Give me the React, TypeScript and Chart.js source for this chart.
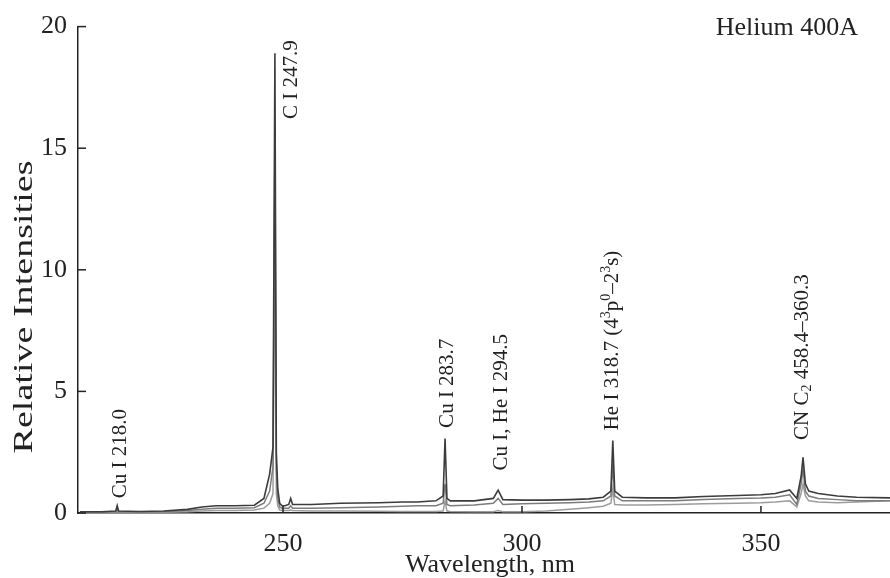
import React, { useEffect, useRef } from "react";
import { Chart, registerables } from "chart.js";

Chart.register(...registerables);

// Shared wavelength grid (nm)
const wavelengths = [
  207.5, 212, 215, 215.3, 215.6, 220, 225, 230, 233, 236, 240, 244, 246, 247.2, 247.9, 248.3, 248.6, 248.9, 249.3,
  249.8, 250.4, 251.2, 251.6, 252, 256, 262, 270, 275, 278, 282, 283.5, 283.9, 284.3, 285, 290, 294, 295, 296,
  300, 305, 310, 314, 317, 318.6, 319.0, 319.4, 321, 326, 332, 338, 345, 350, 353, 356, 357.5, 358.4, 358.8,
  359.3, 360, 362, 366, 370, 377,
];

const seriesA = [
  0.05, 0.05, 0.08, 0.3, 0.08, 0.06, 0.08, 0.15, 0.25, 0.3, 0.3, 0.32, 0.6, 1.6, 2.7, 18.9, 2.5, 1.0, 0.4,
  0.3, 0.3, 0.35, 0.6, 0.35, 0.35, 0.4, 0.42, 0.45, 0.45, 0.5, 0.7, 3.06, 0.6, 0.5, 0.5, 0.6, 0.94, 0.55,
  0.53, 0.53, 0.55, 0.58, 0.65, 0.9, 2.98, 0.9, 0.65, 0.62, 0.62, 0.68, 0.72, 0.75, 0.8, 0.95, 0.6, 1.5, 2.29,
  1.2, 0.9, 0.8, 0.7, 0.65, 0.62,
];

const seriesB = [
  0.03, 0.03, 0.05, 0.15, 0.05, 0.04, 0.05, 0.1, 0.15, 0.2, 0.2, 0.22, 0.4, 0.9, 1.9, 15.5, 1.8, 0.6, 0.25,
  0.2, 0.2, 0.2, 0.3, 0.2, 0.2, 0.22, 0.25, 0.28, 0.3, 0.3, 0.4, 1.2, 0.35, 0.3, 0.33, 0.4, 0.6, 0.35,
  0.38, 0.4, 0.42, 0.45, 0.5, 0.7, 2.0, 0.7, 0.5, 0.5, 0.5, 0.55, 0.6, 0.62, 0.65, 0.75, 0.35, 1.2, 1.8,
  0.9, 0.7, 0.6, 0.55, 0.5, 0.5,
];

const seriesC = [
  0.0, 0.0, 0.02, 0.05, 0.02, 0.02, 0.03, 0.05, 0.08, 0.1, 0.1, 0.12, 0.2, 0.4, 0.8, 12.5, 0.8, 0.3, 0.12,
  0.1, 0.1, 0.1, 0.12, 0.1, 0.08, 0.08, 0.07, 0.06, 0.06, 0.06, 0.08, 0.5, 0.08, 0.06, 0.05, 0.05, 0.1, 0.05,
  0.05, 0.08, 0.15, 0.22, 0.28, 0.4, 1.0, 0.35, 0.33, 0.33, 0.35, 0.38, 0.4, 0.42, 0.45, 0.5, 0.25, 0.8, 1.2,
  0.7, 0.5, 0.45, 0.42, 0.45, 0.5,
];

const xTicks = [250, 300, 350];
const yTicks = [0, 5, 10, 15, 20];

type Seg = { t: string; k?: "sup" | "sub" };
const peakLabels: Seg[][] = [
  [{ t: "Cu I 218.0" }],
  [{ t: "C I 247.9" }],
  [{ t: "Cu I 283.7" }],
  [{ t: "Cu I, He I 294.5" }],
  [{ t: "He I 318.7 (4" }, { t: "3", k: "sup" }, { t: "p" }, { t: "0", k: "sup" }, { t: "\u20132" }, { t: "3", k: "sup" }, { t: "s)" }],
  [{ t: "CN C" }, { t: "2", k: "sub" }, { t: " 458.4\u2013360.3" }],
];
const peakLabelX = [215.9, 251.7, 284.5, 295.8, 319.0, 358.6];
const peakLabelY = [0.61, 16.2, 3.5, 1.75, 3.4, 3.0];

const titleText = "Helium 400A";
const xTitle = "Wavelength, nm";
const yTitle = "Relative Intensities";

const FONT = "'Liberation Serif', 'Times New Roman', serif";
const TEXT = "#222";

const decor = {
  id: "decor",
  afterDraw(chart: any) {
    const ctx = chart.ctx as CanvasRenderingContext2D;
    const xs = chart.scales.x;
    const ys = chart.scales.y;
    const ca = chart.chartArea;
    ctx.save();
    ctx.strokeStyle = "#222";
    ctx.lineWidth = 1.5;
    yTicks.forEach((v) => {
      const y = ys.getPixelForValue(v);
      ctx.beginPath();
      ctx.moveTo(ca.left, y);
      ctx.lineTo(ca.left + 8, y);
      ctx.stroke();
    });
    xTicks.forEach((v) => {
      const x = xs.getPixelForValue(v);
      ctx.beginPath();
      ctx.moveTo(x, ca.bottom);
      ctx.lineTo(x, ca.bottom - 7);
      ctx.stroke();
    });
    ctx.fillStyle = TEXT;
    ctx.font = `26px ${FONT}`;
    ctx.textAlign = "right";
    ctx.textBaseline = "alphabetic";
    ctx.fillText(titleText, 858, 35);
    ctx.textAlign = "center";
    ctx.fillText(xTitle, 490, 572);
    // y title (rotated, stretched along its length to span)
    ctx.save();
    ctx.translate(32, 307);
    ctx.rotate(-Math.PI / 2);
    ctx.font = `28px ${FONT}`;
    const w = ctx.measureText(yTitle).width;
    const target = 293;
    ctx.scale(target / w, 1);
    ctx.textAlign = "center";
    ctx.textBaseline = "alphabetic";
    ctx.fillText(yTitle, 0, 0);
    ctx.restore();
    // peak labels
    const fs = 21;
    peakLabels.forEach((segs, i) => {
      const px = xs.getPixelForValue(peakLabelX[i]);
      const py = ys.getPixelForValue(peakLabelY[i]);
      ctx.save();
      ctx.translate(px, py);
      ctx.rotate(-Math.PI / 2);
      ctx.textAlign = "left";
      ctx.textBaseline = "middle";
      let cx = 0;
      segs.forEach((s) => {
        if (s.k === "sup") {
          ctx.font = `${Math.round(fs * 0.65)}px ${FONT}`;
          ctx.fillText(s.t, cx, -6);
        } else if (s.k === "sub") {
          ctx.font = `${Math.round(fs * 0.65)}px ${FONT}`;
          ctx.fillText(s.t, cx, 5);
        } else {
          ctx.font = `${fs}px ${FONT}`;
          ctx.fillText(s.t, cx, 0);
        }
        cx += ctx.measureText(s.t).width;
      });
      ctx.restore();
    });
    ctx.restore();
  },
};

export default function App() {
  const ref = useRef<HTMLCanvasElement | null>(null);
  useEffect(() => {
    if (!ref.current) return;
    const mk = (vals: number[]) => wavelengths.map((x, i) => ({ x, y: vals[i] }));
    const chart = new Chart(ref.current, {
      type: "line",
      data: {
        datasets: [
          { data: mk(seriesA), borderColor: "#3c3c3c", borderWidth: 1.6, pointRadius: 0, tension: 0 },
          { data: mk(seriesB), borderColor: "#7c7c7c", borderWidth: 1.5, pointRadius: 0, tension: 0 },
          { data: mk(seriesC), borderColor: "#9c9c9c", borderWidth: 1.5, pointRadius: 0, tension: 0 },
        ],
      },
      options: {
        animation: false,
        responsive: true,
        maintainAspectRatio: false,
        layout: { padding: { top: 23, right: 0, left: 0, bottom: 0 } },
        plugins: { legend: { display: false }, tooltip: { enabled: false }, title: { display: false } },
        scales: {
          x: {
            type: "linear",
            min: 207.1,
            max: 377,
            afterBuildTicks: (s: any) => {
              s.ticks = xTicks.map((v) => ({ value: v }));
            },
            afterFit: (s: any) => {
              s.height = 65;
            },
            grid: { display: false, drawTicks: false },
            border: { display: true, color: "#222", width: 1.5 },
            ticks: { color: TEXT, font: { family: FONT, size: 26 }, padding: 16, maxRotation: 0 },
          },
          y: {
            type: "linear",
            min: 0,
            max: 20,
            afterBuildTicks: (s: any) => {
              s.ticks = yTicks.map((v) => ({ value: v }));
            },
            afterFit: (s: any) => {
              s.width = 78;
            },
            grid: { display: false, drawTicks: false },
            border: { display: true, color: "#222", width: 1.5 },
            ticks: { color: TEXT, font: { family: FONT, size: 26 }, padding: 11 },
          },
        },
      },
      plugins: [decor],
    });
    return () => chart.destroy();
  }, []);
  return (
    <div style={{ position: "absolute", left: 0, top: 0, width: 890, height: 578, background: "#fff" }}>
      <canvas ref={ref} />
    </div>
  );
}
